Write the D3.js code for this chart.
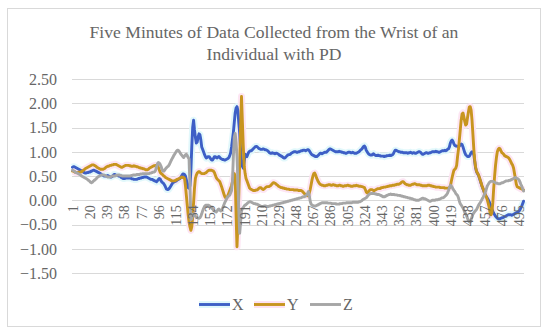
<!DOCTYPE html>
<html><head><meta charset="utf-8">
<script src="https://cdn.jsdelivr.net/npm/d3@7"></script>
<style>html,body{margin:0;padding:0;background:#fff;}svg{display:block;}</style>
</head><body>
<svg id="chart" width="550" height="336"></svg>
<script>
const titleLines = ["Five Minutes of Data Collected from the Wrist of an", "Individual with PD"];
const categories = Array.from({length: 500}, (_, i) => i + 1);
const xTickLabels = [1,20,39,58,77,96,115,134,153,172,191,210,229,248,267,286,305,324,343,362,381,400,419,438,457,476,495];
const yTicks = [-1.5,-1.0,-0.5,0,0.5,1.0,1.5,2.0,2.5];
const seriesNames = ["X","Y","Z"];

const seriesX = [
0.68,0.69,0.69,0.68,0.67,0.66,0.65,0.64,0.63,0.62,
0.61,0.60,0.58,0.57,0.56,0.56,0.57,0.57,0.58,0.58,
0.59,0.60,0.61,0.62,0.62,0.61,0.60,0.59,0.58,0.57,
0.56,0.55,0.53,0.52,0.51,0.50,0.50,0.50,0.50,0.51,
0.50,0.49,0.48,0.48,0.49,0.51,0.53,0.53,0.52,0.51,
0.51,0.50,0.50,0.49,0.47,0.46,0.45,0.45,0.45,0.46,
0.46,0.46,0.46,0.46,0.46,0.45,0.44,0.44,0.43,0.43,
0.43,0.43,0.44,0.45,0.45,0.46,0.46,0.47,0.47,0.48,
0.48,0.48,0.48,0.47,0.46,0.45,0.44,0.43,0.43,0.42,
0.41,0.40,0.39,0.38,0.40,0.43,0.45,0.44,0.40,0.37,
0.36,0.34,0.31,0.27,0.23,0.22,0.22,0.24,0.27,0.30,
0.33,0.36,0.37,0.38,0.39,0.40,0.42,0.43,0.44,0.45,
0.48,0.51,0.54,0.54,0.53,0.50,0.42,0.33,0.26,0.25,
0.30,0.60,1.10,1.50,1.65,1.45,1.30,1.18,1.20,1.30,
1.37,1.35,1.25,1.10,1.05,1.00,0.95,0.90,0.87,0.88,
0.90,0.90,0.88,0.85,0.83,0.83,0.86,0.90,0.90,0.88,
0.87,0.89,0.90,0.88,0.86,0.85,0.84,0.84,0.83,0.83,
0.84,0.85,0.86,0.88,0.92,0.98,1.10,1.25,1.40,1.60,
1.80,1.90,1.93,1.85,1.60,1.38,1.05,0.80,0.70,0.66,
0.80,0.95,0.92,0.90,0.95,0.99,1.01,1.02,1.02,1.04,
1.06,1.08,1.10,1.11,1.11,1.09,1.07,1.06,1.05,1.05,
1.05,1.06,1.05,1.04,1.04,1.03,1.02,1.00,0.98,0.97,
0.97,0.98,0.97,0.97,0.96,0.97,0.97,0.96,0.95,0.93,
0.92,0.91,0.90,0.88,0.87,0.87,0.89,0.91,0.93,0.94,
0.94,0.95,0.97,0.98,0.99,1.00,1.00,1.00,0.99,0.99,
1.00,1.00,1.01,1.02,1.02,1.03,1.03,1.03,1.02,1.03,
1.04,1.04,1.02,0.99,0.96,0.94,0.93,0.92,0.91,0.90,
0.90,0.91,0.93,0.95,0.97,0.97,0.96,0.97,0.98,0.99,
0.99,0.99,1.01,1.03,1.05,1.06,1.05,1.04,1.03,1.02,
1.01,1.00,1.00,1.00,1.00,1.01,1.00,1.00,0.99,0.99,
0.98,0.98,0.97,0.97,0.98,0.99,0.99,0.99,0.98,0.98,
0.99,0.98,0.97,0.97,0.97,0.98,0.99,1.00,1.02,1.04,
1.05,1.08,1.11,1.12,1.09,1.03,1.00,0.97,0.95,0.94,
0.93,0.93,0.95,0.96,0.94,0.93,0.92,0.92,0.93,0.92,
0.92,0.91,0.91,0.91,0.91,0.90,0.91,0.91,0.92,0.92,
0.92,0.93,0.92,0.93,0.94,0.96,1.00,1.03,1.03,1.02,
1.01,1.00,1.00,0.99,0.99,0.99,0.98,0.98,0.98,0.98,
0.98,0.97,0.98,0.98,0.99,0.98,0.97,0.98,0.98,0.97,
0.97,0.98,0.99,1.00,1.00,0.99,0.97,0.95,0.95,0.96,
0.97,0.98,0.98,0.97,0.97,0.98,0.98,0.99,1.00,1.00,
1.00,1.00,1.01,1.00,1.00,0.99,0.99,1.00,1.01,1.02,
1.02,1.02,1.03,1.02,1.03,1.05,1.06,1.10,1.18,1.22,
1.24,1.21,1.16,1.13,1.12,1.12,1.11,1.10,1.12,1.14,
1.16,1.15,1.10,1.04,0.98,0.94,0.92,0.90,0.90,0.91,
0.94,0.98,1.00,0.98,0.94,0.80,0.66,0.59,0.55,0.52,
0.47,0.41,0.35,0.29,0.24,0.19,0.14,0.10,0.07,0.04,
0.01,-0.03,-0.08,-0.13,-0.18,-0.23,-0.27,-0.30,-0.33,-0.35,
-0.37,-0.38,-0.38,-0.38,-0.37,-0.36,-0.36,-0.35,-0.34,-0.33,
-0.32,-0.31,-0.30,-0.30,-0.30,-0.30,-0.31,-0.30,-0.29,-0.28,
-0.27,-0.26,-0.25,-0.24,-0.22,-0.20,-0.16,-0.12,-0.07,-0.02
];

const seriesY = [
0.60,0.60,0.59,0.58,0.57,0.57,0.57,0.58,0.58,0.58,
0.59,0.60,0.62,0.63,0.65,0.66,0.67,0.68,0.69,0.70,
0.71,0.72,0.73,0.73,0.72,0.71,0.70,0.68,0.67,0.66,
0.65,0.64,0.64,0.64,0.64,0.65,0.66,0.68,0.69,0.70,
0.70,0.71,0.72,0.72,0.73,0.73,0.74,0.74,0.74,0.73,
0.72,0.71,0.70,0.69,0.68,0.68,0.69,0.70,0.71,0.72,
0.72,0.72,0.72,0.71,0.71,0.70,0.70,0.70,0.71,0.70,
0.70,0.69,0.69,0.68,0.67,0.67,0.66,0.66,0.65,0.65,
0.64,0.63,0.63,0.63,0.64,0.66,0.67,0.68,0.69,0.70,
0.71,0.71,0.72,0.72,0.71,0.68,0.63,0.58,0.55,0.54,
0.52,0.50,0.49,0.47,0.46,0.45,0.44,0.43,0.42,0.41,
0.40,0.40,0.40,0.40,0.41,0.42,0.43,0.44,0.45,0.46,
0.47,0.48,0.47,0.47,0.45,0.30,0.10,-0.10,-0.30,-0.45,
-0.55,-0.62,-0.55,-0.35,-0.05,0.25,0.45,0.52,0.56,0.58,
0.59,0.58,0.56,0.55,0.55,0.55,0.55,0.56,0.57,0.59,
0.61,0.62,0.62,0.62,0.62,0.61,0.60,0.57,0.52,0.47,
0.44,0.42,0.40,0.38,0.33,0.28,0.22,0.16,0.10,0.06,
0.04,0.06,0.10,0.15,0.20,0.25,0.30,0.38,0.48,0.55,
0.50,-0.30,-0.96,-0.50,0.10,0.80,1.50,2.14,1.60,1.10,
0.70,0.55,0.45,0.40,0.35,0.30,0.25,0.23,0.22,0.21,
0.20,0.20,0.20,0.21,0.21,0.22,0.24,0.26,0.26,0.25,
0.23,0.22,0.23,0.25,0.27,0.28,0.28,0.28,0.29,0.30,
0.32,0.34,0.36,0.36,0.35,0.34,0.32,0.31,0.29,0.28,
0.27,0.26,0.26,0.25,0.25,0.24,0.24,0.23,0.23,0.23,
0.22,0.22,0.22,0.22,0.22,0.21,0.21,0.21,0.21,0.21,
0.20,0.20,0.20,0.20,0.19,0.17,0.15,0.13,0.11,0.10,
0.09,0.10,0.15,0.22,0.32,0.42,0.50,0.55,0.56,0.52,
0.46,0.42,0.38,0.35,0.33,0.32,0.31,0.31,0.30,0.30,
0.30,0.31,0.31,0.32,0.32,0.32,0.31,0.31,0.32,0.32,
0.31,0.31,0.30,0.30,0.30,0.31,0.31,0.30,0.30,0.29,
0.29,0.30,0.30,0.30,0.31,0.31,0.30,0.30,0.29,0.29,
0.29,0.30,0.30,0.30,0.31,0.30,0.30,0.29,0.29,0.29,
0.28,0.28,0.27,0.26,0.22,0.17,0.15,0.16,0.19,0.21,
0.22,0.22,0.21,0.20,0.20,0.21,0.22,0.23,0.24,0.24,
0.24,0.25,0.26,0.26,0.27,0.27,0.27,0.28,0.28,0.29,
0.29,0.30,0.30,0.30,0.31,0.31,0.31,0.32,0.32,0.33,
0.33,0.33,0.34,0.35,0.37,0.38,0.38,0.36,0.34,0.33,
0.32,0.32,0.31,0.31,0.31,0.32,0.33,0.33,0.34,0.34,
0.33,0.32,0.32,0.32,0.32,0.31,0.31,0.30,0.30,0.30,
0.30,0.30,0.30,0.31,0.31,0.31,0.30,0.30,0.29,0.29,
0.28,0.28,0.27,0.27,0.27,0.27,0.27,0.26,0.26,0.26,
0.26,0.26,0.25,0.25,0.25,0.25,0.25,0.26,0.28,0.38,
0.47,0.55,0.62,0.64,0.66,0.72,0.90,1.05,1.25,1.45,
1.65,1.78,1.80,1.72,1.62,1.55,1.57,1.70,1.82,1.92,
1.93,1.86,1.65,1.36,1.05,0.82,0.68,0.60,0.56,0.53,
0.48,0.42,0.36,0.30,0.25,0.20,0.14,0.10,0.06,0.00,
-0.07,-0.15,-0.27,-0.30,-0.26,-0.05,0.25,0.50,0.72,0.88,
1.00,1.05,1.07,1.06,1.02,0.98,0.97,0.95,0.92,0.91,
0.90,0.89,0.88,0.86,0.83,0.79,0.75,0.72,0.66,0.55,
0.45,0.33,0.28,0.27,0.26,0.25,0.24,0.23,0.22,0.21
];

const seriesZ = [
0.62,0.61,0.60,0.58,0.57,0.56,0.55,0.54,0.53,0.52,
0.50,0.49,0.48,0.47,0.46,0.45,0.44,0.42,0.41,0.39,
0.37,0.36,0.37,0.39,0.41,0.42,0.44,0.46,0.48,0.49,
0.50,0.51,0.52,0.52,0.52,0.52,0.51,0.50,0.49,0.48,
0.48,0.48,0.48,0.49,0.50,0.50,0.50,0.50,0.51,0.51,
0.52,0.52,0.52,0.51,0.51,0.50,0.50,0.50,0.50,0.50,
0.50,0.50,0.50,0.50,0.50,0.51,0.51,0.52,0.52,0.52,
0.52,0.53,0.53,0.53,0.53,0.54,0.54,0.54,0.55,0.55,
0.55,0.55,0.55,0.55,0.55,0.55,0.56,0.56,0.57,0.58,
0.58,0.59,0.62,0.68,0.75,0.78,0.77,0.74,0.70,0.64,
0.60,0.60,0.62,0.65,0.67,0.69,0.70,0.73,0.77,0.81,
0.85,0.88,0.92,0.95,0.98,1.01,1.03,1.03,1.01,0.98,
0.95,0.93,0.90,0.88,0.91,0.94,0.95,0.92,0.88,0.85,
0.30,-0.40,-0.38,-0.30,-0.28,-0.30,-0.33,-0.35,-0.36,-0.37,
-0.37,-0.36,-0.33,-0.28,-0.22,-0.17,-0.13,-0.11,-0.10,-0.10,
-0.10,-0.11,-0.12,-0.14,-0.16,-0.18,-0.20,-0.22,-0.23,-0.24,
-0.22,-0.19,-0.18,-0.20,-0.22,-0.21,-0.17,-0.12,-0.07,-0.03,
0.01,0.05,0.07,0.09,0.11,0.15,0.20,0.40,0.90,1.30,
1.38,1.20,0.90,0.40,-0.20,-0.68,-0.45,-0.22,-0.17,-0.15,
-0.12,-0.10,-0.09,-0.07,-0.05,-0.04,-0.03,-0.03,-0.04,-0.05,
-0.06,-0.07,-0.07,-0.08,-0.08,-0.09,-0.10,-0.11,-0.12,-0.13,
-0.13,-0.13,-0.12,-0.12,-0.12,-0.13,-0.13,-0.13,-0.12,-0.12,
-0.11,-0.11,-0.10,-0.10,-0.09,-0.09,-0.08,-0.08,-0.07,-0.07,
-0.06,-0.06,-0.05,-0.05,-0.04,-0.04,-0.03,-0.03,-0.02,-0.02,
-0.01,-0.01,0.00,0.00,0.01,0.01,0.02,0.02,0.03,0.03,
0.04,0.04,0.05,0.05,0.06,0.07,0.07,0.08,0.09,0.11,
0.14,0.18,0.10,-0.02,-0.08,-0.10,-0.11,-0.12,-0.12,-0.12,
-0.11,-0.10,-0.09,-0.08,-0.07,-0.06,-0.05,-0.05,-0.05,-0.05,
-0.05,-0.05,-0.05,-0.06,-0.06,-0.06,-0.06,-0.07,-0.07,-0.07,
-0.07,-0.07,-0.08,-0.08,-0.08,-0.08,-0.07,-0.07,-0.07,-0.06,
-0.06,-0.06,-0.06,-0.05,-0.05,-0.05,-0.05,-0.05,-0.05,-0.05,
-0.04,-0.04,-0.04,-0.04,-0.04,-0.04,-0.04,-0.03,-0.03,-0.02,
-0.01,0.01,0.02,0.03,0.04,0.05,0.07,0.10,0.12,0.13,
0.14,0.14,0.14,0.14,0.14,0.13,0.13,0.12,0.12,0.12,
0.11,0.10,0.09,0.08,0.07,0.07,0.08,0.09,0.10,0.11,
0.12,0.12,0.13,0.12,0.12,0.12,0.12,0.11,0.11,0.11,
0.10,0.10,0.10,0.09,0.09,0.08,0.08,0.07,0.07,0.06,
0.06,0.05,0.05,0.04,0.04,0.03,0.03,0.02,0.01,0.01,
0.00,0.00,0.00,0.00,0.01,0.02,0.03,0.04,0.04,0.03,
0.03,0.02,0.01,0.00,-0.01,-0.02,-0.02,-0.01,0.00,0.00,
0.00,0.00,0.01,0.01,0.01,0.02,0.02,0.03,0.04,0.05,
0.05,0.06,0.08,0.10,0.12,0.15,0.20,0.26,0.31,0.30,
0.27,0.23,0.20,0.18,0.14,0.12,0.10,0.05,-0.02,-0.07,
-0.10,-0.13,-0.16,-0.20,-0.25,-0.28,-0.32,-0.37,-0.42,-0.45,
-0.45,-0.40,-0.34,-0.29,-0.26,-0.23,-0.21,-0.19,-0.15,-0.11,
-0.08,-0.05,-0.02,0.02,0.05,0.09,0.13,0.18,0.24,0.30,
0.33,0.36,0.38,0.39,0.39,0.39,0.38,0.37,0.36,0.35,
0.35,0.34,0.34,0.34,0.35,0.36,0.36,0.37,0.38,0.39,
0.40,0.40,0.40,0.41,0.41,0.42,0.43,0.44,0.45,0.46,
0.47,0.46,0.45,0.44,0.42,0.38,0.33,0.29,0.24,0.19
];

const colors = ["#3d5fc6", "#c8951f", "#a6a6a6"];
const haloColors = ["#dff7fb", "#fde2f2", "#efefef"];

const svg = d3.select("#chart");
const W = 550, H = 336;
const plot = {left: 72, right: 524, top: 79, bottom: 273};

svg.append("rect").attr("x", 0).attr("y", 0).attr("width", W).attr("height", H).attr("fill", "#fff");
svg.append("rect").attr("x", 7.5).attr("y", 8.5).attr("width", 533).attr("height", 318)
  .attr("fill", "#fff").attr("stroke", "#d9d9d9").attr("stroke-width", 1);

// title
const title = svg.append("text").attr("text-anchor", "middle")
  .attr("font-family", "'Liberation Serif','Times New Roman',serif").attr("font-size", 17.6).attr("fill", "#666");
titleLines.forEach((t, i) => {
  title.append("tspan").attr("x", 274).attr("y", 38 + i * 22).text(t);
});

const x = d3.scalePoint().domain(categories).range([plot.left, plot.right]).padding(0.5);
const y = d3.scaleLinear().domain([-1.5, 2.5]).range([plot.bottom, plot.top]);

// gridlines
svg.append("g").selectAll("line").data(yTicks).join("line")
  .attr("x1", plot.left).attr("x2", plot.right)
  .attr("y1", d => Math.round(y(d)) + 0.5).attr("y2", d => Math.round(y(d)) + 0.5)
  .attr("stroke", "#d9d9d9").attr("stroke-width", 1);

// y axis labels
const fmt = d => (d < 0 ? "\u2212" : "") + Math.abs(d).toFixed(2);
const yAxis = d3.axisLeft(y).tickValues(yTicks).tickFormat(fmt).tickSize(0).tickPadding(0);
const gy = svg.append("g").attr("transform", `translate(${plot.left - 15},0)`).call(yAxis);
gy.select(".domain").remove();
gy.selectAll("text").attr("font-family", "'Liberation Serif','Times New Roman',serif")
  .attr("font-size", 16).attr("fill", "#666").attr("dy", "0.34em");

// lines
const line = d3.line().x((d, i) => x(categories[i])).y(d => y(d)).curve(d3.curveLinear);
const allSeries = [seriesX, seriesY, seriesZ];
const lg = svg.append("g");
allSeries.forEach((s, k) => {
  if (k < 2) {
    lg.append("path").datum(s).attr("d", line).attr("fill", "none")
      .attr("stroke", haloColors[k]).attr("stroke-width", 7).attr("stroke-linejoin", "round").attr("opacity", 0.9);
  }
});
allSeries.forEach((s, k) => {
  lg.append("path").datum(s).attr("d", line).attr("fill", "none")
    .attr("stroke", colors[k]).attr("stroke-width", 2.9)
    .attr("stroke-linejoin", "round").attr("stroke-linecap", "round");
});

// x axis labels at the zero line
const xAxis = d3.axisBottom(x).tickValues(xTickLabels).tickSize(0).tickPadding(0);
const gx = svg.append("g").attr("transform", `translate(0,${y(0)})`).call(xAxis);
gx.select(".domain").remove();
gx.selectAll("text")
  .attr("font-family", "'Liberation Serif','Times New Roman',serif").attr("font-size", 14).attr("fill", "#666")
  .attr("transform", "rotate(-90)").attr("text-anchor", "end")
  .attr("x", -5).attr("y", 0).attr("dy", "0.35em");

// legend
const legendX = [199, 254, 310];
const leg = svg.append("g");
seriesNames.forEach((n, k) => {
  if (k < 2) {
    leg.append("line").attr("x1", legendX[k]).attr("x2", legendX[k] + 31).attr("y1", 304.5).attr("y2", 304.5)
      .attr("stroke", haloColors[k]).attr("stroke-width", 7);
  }
  leg.append("line").attr("x1", legendX[k]).attr("x2", legendX[k] + 31).attr("y1", 304.5).attr("y2", 304.5)
    .attr("stroke", colors[k]).attr("stroke-width", 2.9);
  leg.append("text").attr("x", legendX[k] + 33).attr("y", 310)
    .attr("font-family", "'Liberation Serif','Times New Roman',serif").attr("font-size", 16).attr("fill", "#666")
    .text(n);
});
</script>
</body></html>
